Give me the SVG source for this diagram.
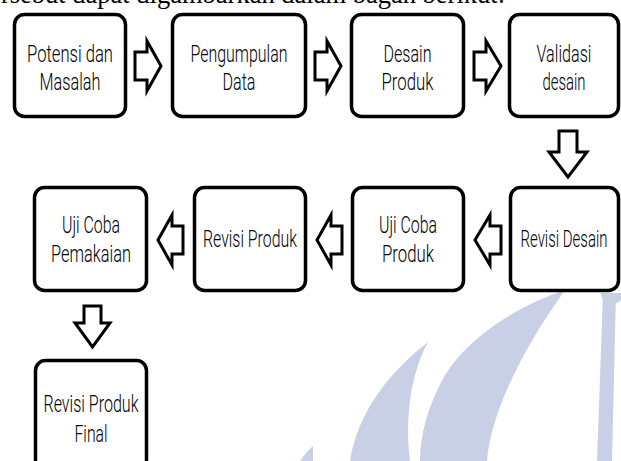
<svg xmlns="http://www.w3.org/2000/svg" width="621" height="461" viewBox="0 0 621 461">
<style>
.box{fill:#fff;stroke:#000;stroke-width:3.5}
.arr{fill:#fff;stroke:#000;stroke-width:3;stroke-linejoin:miter}
.t{font-family:Roboto,"Liberation Sans",sans-serif;font-weight:300;font-size:24px;fill:#000;text-anchor:middle}
.wm{fill:#c9d0e5}
.top{font-family:"Liberation Serif","Times New Roman",serif;font-size:26.5px;fill:#000}
</style>
<rect width="621" height="461" fill="#fff"/>
<g id="watermark">
<path class="wm" d="M428,342 C392,370 358,410 350,461 L410,461 C405,420 410,375 428,342 Z"/>
<path class="wm" d="M313,446 C306,452 302,458 300,461 L313,461 Z"/>
<path class="wm" d="M565,290 C520,305 470,335 445,375 C428,405 420,435 420,461 L487,461 C490,420 515,360 565,290 Z"/>
<path class="wm" d="M603,293 L616,293 L612,461 L597,461 Z"/>
<path class="wm" d="M600,293 L621,293 L621,300 Q612,308 604,302 Z"/>
</g>
<text class="top" x="505" y="3" text-anchor="end">tersebut dapat digambarkan dalam bagan berikut:</text>
<g id="connectors">
<path class="arr" d="M135,52 H147 V41 L161,66 L147,91 V80 H135 Z"/>
<path class="arr" d="M315,52 H327 V41 L341,66 L327,91 V80 H315 Z"/>
<path class="arr" d="M474,52 H486 V41 L501,66 L486,91 V80 H474 Z"/>
<path class="arr" d="M559,131 H577 V152 H587 L568,177 L549,152 H559 Z"/>
<path class="arr" d="M501,226 H490 V215 L475,240 L490,265 V254 H501 Z"/>
<path class="arr" d="M342,226 H331 V215 L317,240 L331,265 V254 H342 Z"/>
<path class="arr" d="M183,226 H172 V215 L158,240 L172,265 V254 H183 Z"/>
<path class="arr" d="M84,306 H101 V323 H110 L92.5,347 L75,323 H84 Z"/>
</g>
<g id="n1"><rect class="box" x="14.5" y="14.5" width="111" height="102" rx="10"/>
<text class="t" x="70" y="62" textLength="86" lengthAdjust="spacingAndGlyphs">Potensi dan</text>
<text class="t" x="70" y="90" textLength="61" lengthAdjust="spacingAndGlyphs">Masalah</text></g>
<g id="n2"><rect class="box" x="172.5" y="14.5" width="133" height="102" rx="10"/>
<text class="t" x="239" y="62" textLength="97" lengthAdjust="spacingAndGlyphs">Pengumpulan</text>
<text class="t" x="239" y="90" textLength="33" lengthAdjust="spacingAndGlyphs">Data</text></g>
<g id="n3"><rect class="box" x="351.5" y="14.5" width="112" height="102" rx="10"/>
<text class="t" x="407.5" y="62" textLength="48" lengthAdjust="spacingAndGlyphs">Desain</text>
<text class="t" x="407.5" y="90" textLength="52" lengthAdjust="spacingAndGlyphs">Produk</text></g>
<g id="n4"><rect class="box" x="509.5" y="14.5" width="109" height="102" rx="10"/>
<text class="t" x="564" y="62" textLength="55" lengthAdjust="spacingAndGlyphs">Validasi</text>
<text class="t" x="564" y="90" textLength="43" lengthAdjust="spacingAndGlyphs">desain</text></g>
<g id="n5"><rect class="box" x="510.5" y="187.5" width="108" height="103" rx="10"/>
<text class="t" x="564" y="247" textLength="87" lengthAdjust="spacingAndGlyphs">Revisi Desain</text></g>
<g id="n6"><rect class="box" x="352.5" y="187.5" width="111" height="103" rx="10"/>
<text class="t" x="408" y="233" textLength="58" lengthAdjust="spacingAndGlyphs">Uji Coba</text>
<text class="t" x="408" y="262" textLength="52" lengthAdjust="spacingAndGlyphs">Produk</text></g>
<g id="n7"><rect class="box" x="194.5" y="187.5" width="111" height="103" rx="10"/>
<text class="t" x="250" y="247" textLength="94" lengthAdjust="spacingAndGlyphs">Revisi Produk</text></g>
<g id="n8"><rect class="box" x="34.5" y="187.5" width="112" height="103" rx="10"/>
<text class="t" x="91" y="233" textLength="58" lengthAdjust="spacingAndGlyphs">Uji Coba</text>
<text class="t" x="91" y="262" textLength="80" lengthAdjust="spacingAndGlyphs">Pemakaian</text></g>
<g id="n9"><rect class="box" x="35.5" y="360.5" width="111" height="110" rx="10"/>
<text class="t" x="91" y="412" textLength="95" lengthAdjust="spacingAndGlyphs">Revisi Produk</text>
<text class="t" x="91" y="442" textLength="33" lengthAdjust="spacingAndGlyphs">Final</text></g>
</svg>
